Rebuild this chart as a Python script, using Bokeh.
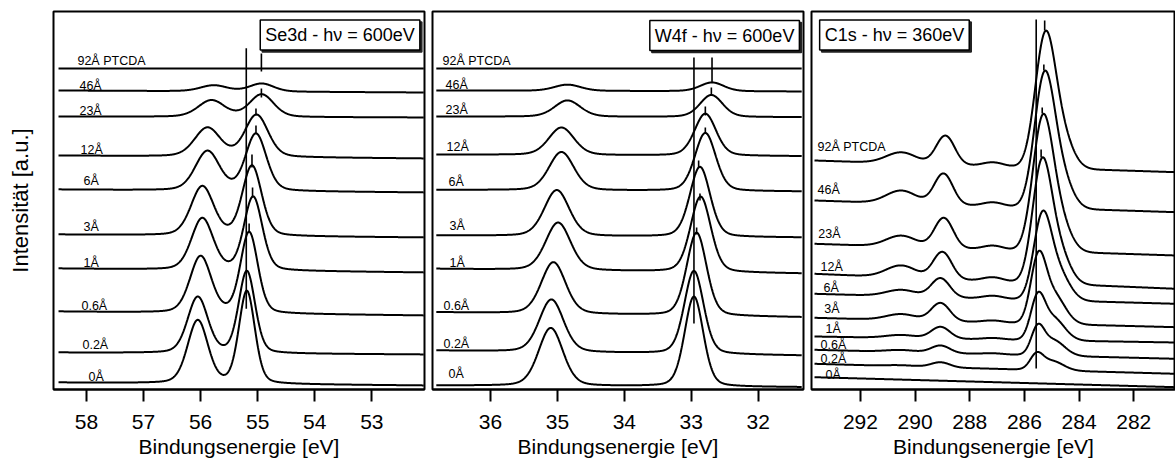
import numpy as np
from bokeh.plotting import figure
from bokeh.layouts import row
from bokeh.models import Range1d, FixedTicker, Label, ColumnDataSource
from bokeh.core.properties import value
from bokeh.embed import file_html
from bokeh.resources import INLINE

FONT = "Liberation Sans"

# ---------------- data ----------------
coverage = ["0Å", "0.2Å", "0.6Å", "1Å", "3Å", "6Å", "12Å", "23Å", "46Å", "92Å PTCDA"]

# Se3d, hv = 600 eV
se_base_left = [7, 37, 78, 121, 155, 200, 234, 273, 299, 321]
se_base_right = [4, 35, 74, 117, 152, 197, 231, 272, 297, 321]
se_p1_pos = [56.05, 56.05, 56.00, 55.97, 55.97, 55.88, 55.88, 55.81, 55.77, 55.77]
se_p1_height = [63, 56, 56.5, 51.5, 49, 39.3, 28.7, 16.5, 6, 0]
se_p1_fwhm = [0.42, 0.42, 0.44, 0.45, 0.47, 0.50, 0.53, 0.55, 0.55, 0.55]
se_p2_pos = [55.19, 55.19, 55.15, 55.08, 55.10, 55.03, 55.02, 54.93, 54.93, 54.93]
se_p2_height = [92.5, 82, 81, 73.5, 70, 57, 42, 22.5, 8, 0]
se_p2_fwhm = [0.33, 0.34, 0.36, 0.38, 0.40, 0.43, 0.48, 0.50, 0.50, 0.50]
se_ref_line = [55.20, 80.7, 341.3]
se_mark_pos = [54.935, 54.935, 55.03, 55.03, 55.10, 55.09, 55.15]
se_mark_low = [318, 292, 274, 256, 222, 192, 157]
se_mark_high = [336, 301, 281, 264, 235, 202, 166]

# W4f, hv = 600 eV
w_base_left = [4, 39, 77.3, 120.7, 154, 199.7, 235, 273, 299, 321]
w_base_right = [2.3, 34, 72.3, 116, 152, 198, 233.3, 272.3, 298, 321]
w_p1_pos = [35.10, 35.09, 35.06, 34.99, 35.01, 34.94, 34.94, 34.85, 34.85, 34.85]
w_p1_height = [58, 52.5, 51.5, 47.7, 46, 38.3, 27.5, 16.3, 6.2, 0]
w_p1_fwhm = [0.43, 0.43, 0.43, 0.44, 0.44, 0.44, 0.45, 0.46, 0.47, 0.47]
w_p2_pos = [32.96, 32.96, 32.92, 32.86, 32.87, 32.79, 32.79, 32.70, 32.69, 32.69]
w_p2_height = [90, 83, 83, 75.5, 70, 58, 42, 22, 8.8, 0]
w_p2_fwhm = [0.33, 0.34, 0.35, 0.36, 0.36, 0.37, 0.38, 0.40, 0.42, 0.42]
w_ref_line = [32.96, 66, 332]
w_mark_pos = [32.69, 32.70, 32.79, 32.79, 32.89, 32.87, 32.92]
w_mark_low = [307, 294, 274, 256, 222, 189, 155]
w_mark_high = [332, 302, 283, 262, 229, 196, 162]

# C1s, hv = 360 eV
c_base_left = [12.3, 25.7, 39.7, 53, 71.7, 95.7, 115.7, 145.7, 189, 229]
c_base_right = [2.3, 15.7, 30.7, 47, 62.3, 85.7, 100.7, 134, 177.3, 217.3]
c_main_pos = [285.56, 285.56, 285.52, 285.52, 285.50, 285.36, 285.38, 285.35, 285.29, 285.26]
c_main_height = [0, 18, 31.7, 48.5, 73, 89.6, 126, 137.4, 137.4, 137.4]
c_main_fwhm = [0.55, 0.55, 0.55, 0.6, 0.65, 0.75, 0.8, 0.85, 0.85, 0.85]
c_shoulder_ratio = [0.7, 0.7, 0.65, 0.6, 0.5, 0.4, 0.35, 0.3, 0.3, 0.3]
c_289_pos = [289.07, 289.07, 289.07, 289.07, 289.07, 289.07, 289.0, 288.95, 288.96, 288.89]
c_289_height = [0, 5, 7.4, 11.7, 18, 19, 27, 30, 31, 29]
c_290_height = [0, 1, 2, 3, 6, 6.4, 12, 11, 12.8, 11]
c_287_height = [0, 0, 1, 1.5, 2, 3, 4, 4, 4, 4]
c_ref_line = [285.57, 21, 370]
c_mark_pos = [285.26, 285.29, 285.35, 285.39]
c_mark_low = [359, 319, 276, 232]
c_mark_high = [369, 325, 282, 240]

# tick labels
se_ticks = [58, 57, 56, 55, 54, 53]
w_ticks = [36, 35, 34, 33, 32]
c_ticks = [292, 290, 288, 286, 284, 282]

# ---------------- layout constants ----------------
LABEL_LIFT = 4.5
se_label_x = [57.965, 58.07, 58.088, 58.053, 58.053, 58.053, 58.105, 58.123, 58.123, 58.158]
se_label_y = [8.5, 40.5, 79.5, 122.5, 158.5, 204.5, 235.5, 274.5, 299.5, 324.5]
w_label_x = [36.628, 36.703, 36.703, 36.613, 36.613, 36.628, 36.658, 36.673, 36.673, 36.717]
w_label_y = [10.7, 41.4, 78.7, 122, 158.7, 203, 238, 275.4, 300.4, 323.7]
c_label_x = [293.28, 293.46, 293.46, 293.28, 293.32, 293.35, 293.46, 293.54, 293.57, 293.57]
c_label_y = [9.7, 25.7, 39.7, 56.4, 75.7, 97.4, 118, 151.4, 194.7, 238]


def pvoigt(x, c, h, w, eta=0.25):
    d = (x - c) / (w / 2.0)
    return h * (eta / (1.0 + d ** 2) + (1.0 - eta) * np.exp(-np.log(2) * d ** 2))


def gauss(x, c, h, w):
    return h * np.exp(-4.0 * np.log(2) * (x - c) ** 2 / w ** 2)


def baseline(x, left, right):
    return left + (right - left) * (x[0] - x) / (x[0] - x[-1])


def make_fig(xr, width, bl, br, ticks, ylabel=None):
    p = figure(width=width, height=460, x_range=Range1d(xr[0], xr[1]), y_range=Range1d(0, 378),
               output_backend="svg", toolbar_location=None,
               min_border_left=bl, min_border_right=br, min_border_top=11, min_border_bottom=71,
               y_axis_location="left" if ylabel else None)
    p.grid.visible = False
    p.background_fill_color = "white"
    p.border_fill_color = "white"
    p.outline_line_color = "black"
    p.outline_line_width = 2
    p.outline_line_alpha = 1
    xa = p.xaxis[0]
    xa.ticker = FixedTicker(ticks=ticks)
    xa.major_tick_out = 12
    xa.major_tick_in = 0
    xa.major_tick_line_width = 2
    xa.major_tick_line_color = "black"
    xa.minor_tick_line_color = None
    xa.axis_line_width = 2
    xa.axis_line_color = "black"
    xa.major_label_text_font = FONT
    xa.major_label_text_font_size = "21px"
    xa.major_label_text_color = "black"
    xa.major_label_text_line_height = 1.0
    xa.major_label_standoff = 13
    xa.axis_label = "Bindungsenergie [eV]"
    xa.axis_label_text_font = FONT
    xa.axis_label_text_font_size = "21px"
    xa.axis_label_text_font_style = "normal"
    xa.axis_label_text_color = "black"
    xa.axis_label_text_line_height = 1.0
    xa.axis_label_standoff = 3
    if ylabel:
        ya = p.yaxis[0]
        ya.ticker = FixedTicker(ticks=[])
        ya.major_tick_out = 0
        ya.major_tick_in = 0
        ya.major_tick_line_color = None
        ya.minor_tick_line_color = None
        ya.axis_line_color = None
        ya.major_label_text_font_size = "0px"
        ya.major_label_standoff = 0
        ya.axis_label = ylabel
        ya.axis_label_text_font = FONT
        ya.axis_label_text_font_size = "22px"
        ya.axis_label_text_font_style = "normal"
        ya.axis_label_text_color = "black"
        ya.axis_label_standoff = 21
    return p


def add_common(p, xs, ys, labels_x, labels_y, ref, mpos, mlow, mhigh, title, tx, ty):
    p.multi_line(xs=xs, ys=ys, line_color="black", line_width=2)
    src = ColumnDataSource(dict(x=labels_x, y=[v + LABEL_LIFT for v in labels_y], t=coverage))
    p.text(x="x", y="y", text="t", source=src, text_font=value(FONT), text_font_size="12.5px",
           text_color="black", text_baseline="alphabetic", text_align="left")
    p.segment(x0=[ref[0]], y0=[ref[1]], x1=[ref[0]], y1=[ref[2]], line_color="black", line_width=1.6)
    p.segment(x0=mpos, y0=mlow, x1=mpos, y1=mhigh, line_color="black", line_width=1.6)
    shadow = Label(x=tx, y=ty, text=title, text_font=FONT, text_font_size="18px",
                   text_align="center", text_baseline="middle", text_color="#222222",
                   x_offset=2, y_offset=-2, padding=5,
                   background_fill_color="#222222", border_line_color="#222222", border_line_width=1.5)
    box = Label(x=tx, y=ty, text=title, text_font=FONT, text_font_size="18px",
                text_align="center", text_baseline="middle", text_color="black", padding=5,
                background_fill_color="white", border_line_color="black", border_line_width=1.5)
    p.add_layout(shadow)
    p.add_layout(box)


# ---------------- Se3d ----------------
se_x = np.linspace(58.49, 52.09, 900)
se_xs, se_ys = [], []
for i in range(len(coverage)):
    y = baseline(se_x, se_base_left[i], se_base_right[i])
    y = y + pvoigt(se_x, se_p1_pos[i], se_p1_height[i], se_p1_fwhm[i])
    y = y + pvoigt(se_x, se_p2_pos[i], se_p2_height[i], se_p2_fwhm[i])
    se_xs.append(se_x.tolist())
    se_ys.append(y.tolist())

p1 = make_fig((58.578, 52.077), 428, 53, 4, se_ticks, ylabel="Intensität [a.u.]")
add_common(p1, se_xs, se_ys, se_label_x, se_label_y, se_ref_line, se_mark_pos, se_mark_low,
           se_mark_high, "Se3d - hν = 600eV", 53.557, 354.5)

# ---------------- W4f ----------------
w_x = np.linspace(36.81, 31.35, 900)
w_xs, w_ys = [], []
for i in range(len(coverage)):
    y = baseline(w_x, w_base_left[i], w_base_right[i])
    y = y + pvoigt(w_x, w_p1_pos[i], w_p1_height[i], w_p1_fwhm[i])
    y = y + pvoigt(w_x, w_p2_pos[i], w_p2_height[i], w_p2_fwhm[i])
    w_xs.append(w_x.tolist())
    w_ys.append(y.tolist())

p2 = make_fig((36.867, 31.323), 379, 4, 4, w_ticks)
add_common(p2, w_xs, w_ys, w_label_x, w_label_y, w_ref_line, w_mark_pos, w_mark_low,
           w_mark_high, "W4f - hν = 600eV", 32.502, 354)

# ---------------- C1s ----------------
c_x = np.linspace(293.68, 280.45, 1400)
c_xs, c_ys = [], []
for i in range(len(coverage)):
    y = baseline(c_x, c_base_left[i], c_base_right[i])
    shape = gauss(c_x, c_main_pos[i], 1.0, c_main_fwhm[i]) + \
        gauss(c_x, c_main_pos[i] - 0.55, c_shoulder_ratio[i], 1.0)
    y = y + c_main_height[i] * shape / shape.max()
    y = y + gauss(c_x, c_289_pos[i], c_289_height[i], 0.8)
    y = y + gauss(c_x, 290.5, c_290_height[i], 1.3)
    y = y + gauss(c_x, 287.15, c_287_height[i], 0.9)
    c_xs.append(c_x.tolist())
    c_ys.append(y.tolist())

p3 = make_fig((293.79, 280.474), 368, 4, 0, c_ticks)
add_common(p3, c_xs, c_ys, c_label_x, c_label_y, c_ref_line, c_mark_pos, c_mark_low,
           c_mark_high, "C1s - hν = 360eV", 290.756, 354.5)

layout = row(p1, p2, p3, spacing=0)
open("out.html", "w").write(file_html(layout, INLINE))
